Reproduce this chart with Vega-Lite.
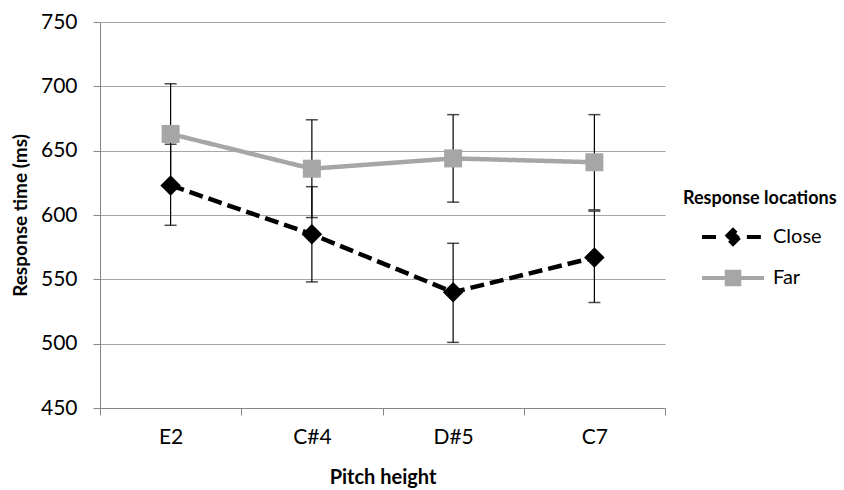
{
  "$schema": "https://vega.github.io/schema/vega-lite/v6.json",
  "autosize": {"type": "none"},
  "padding": {"left": 100, "top": 22, "right": 179, "bottom": 82},
  "width": 565,
  "height": 386,
  "background": "white",
  "config": {
    "font": "Lato",
    "view": {"stroke": null},
    "axis": {"labelFont": "Lato", "titleFont": "Lato", "labelColor": "#000000", "titleColor": "#000000"}
  },
  "data": {
    "values": [
      {"pitch": "E2", "loc": "Close", "rt": 623, "lo": 592, "hi": 655},
      {"pitch": "C#4", "loc": "Close", "rt": 585, "lo": 548, "hi": 622},
      {"pitch": "D#5", "loc": "Close", "rt": 540, "lo": 501, "hi": 578},
      {"pitch": "C7", "loc": "Close", "rt": 567, "lo": 532, "hi": 603},
      {"pitch": "E2", "loc": "Far", "rt": 663, "lo": 624, "hi": 702},
      {"pitch": "C#4", "loc": "Far", "rt": 636, "lo": 598, "hi": 674},
      {"pitch": "D#5", "loc": "Far", "rt": 644, "lo": 610, "hi": 678},
      {"pitch": "C7", "loc": "Far", "rt": 641, "lo": 604, "hi": 678}
    ]
  },
  "encoding": {
    "x": {
      "field": "pitch",
      "type": "ordinal",
      "sort": ["E2", "C#4", "D#5", "C7"],
      "scale": {"type": "band", "paddingInner": 0, "paddingOuter": 0},
      "axis": {
        "title": "Pitch height",
        "titleFontSize": 20,
        "titleFontWeight": "bold",
        "titlePadding": 20,
        "labelFontSize": 21,
        "labelPadding": 11,
        "labelAngle": 0,
        "tickBand": "extent",
        "tickSize": 7,
        "tickColor": "#868686",
        "domainColor": "#868686",
        "grid": false
      }
    }
  },
  "layer": [
    {
      "mark": {"type": "rule", "color": "#000000", "strokeWidth": 1.2},
      "encoding": {
        "y": {"field": "lo", "type": "quantitative"},
        "y2": {"field": "hi"}
      }
    },
    {
      "mark": {"type": "tick", "color": "#000000", "size": 12, "thickness": 1.5},
      "encoding": {"y": {"field": "lo", "type": "quantitative"}}
    },
    {
      "mark": {"type": "tick", "color": "#000000", "size": 12, "thickness": 1.5},
      "encoding": {"y": {"field": "hi", "type": "quantitative"}}
    },
    {
      "mark": {"type": "line", "strokeWidth": 4.5},
      "encoding": {
        "y": {
          "field": "rt",
          "type": "quantitative",
          "scale": {"domain": [450, 750], "nice": false, "zero": false},
          "axis": {
            "title": "Response time (ms)",
            "titleFontSize": 19,
            "titleFontWeight": "bold",
            "titlePadding": 10,
            "labelFontSize": 21,
            "labelPadding": 16,
            "values": [450, 500, 550, 600, 650, 700, 750],
            "tickSize": 7,
            "tickColor": "#868686",
            "domainColor": "#868686",
            "gridColor": "#a6a6a6",
            "gridWidth": 1.2
          }
        },
        "color": {
          "field": "loc",
          "type": "nominal",
          "scale": {"domain": ["Close", "Far"], "range": ["#000000", "#a6a6a6"]},
          "legend": {
            "title": "Response locations",
            "orient": "none",
            "legendX": 583,
            "legendY": 168,
            "padding": 0,
            "titleFontSize": 18,
            "titleFontWeight": "bold",
            "titleColor": "#000000",
            "titlePadding": 8,
            "labelFontSize": 20,
            "labelColor": "#000000",
            "labelOffset": 19,
            "rowPadding": 5,
            "symbolSize": 1444,
            "symbolOffset": 29,
            "symbolStrokeWidth": 4,
            "encode": {
              "symbols": {
                "update": {
                  "shape": {"signal": "datum.value === 'Close' ? 'M-1.63,0L-0.73,0M0.73,0L1.55,0M-0.36,0L0,-0.36L0.36,0L0,0.36Z' : 'M-1.63,0L1.63,0M-0.33,-0.33L0.33,-0.33L0.33,0.33L-0.33,0.33Z'"},
                  "fill": {"signal": "datum.value === 'Close' ? '#000000' : '#a6a6a6'"},
                  "fillOpacity": {"value": 1},
                  "strokeDash": {"value": [1, 0]}
                }
              }
            }
          }
        },
        "strokeDash": {
          "field": "loc",
          "type": "nominal",
          "scale": {"domain": ["Close", "Far"], "range": [[14, 6], [1, 0]]},
          "legend": null
        }
      }
    },
    {
      "mark": {"type": "point", "filled": true, "opacity": 1},
      "encoding": {
        "y": {"field": "rt", "type": "quantitative"},
        "shape": {"condition": {"test": "datum.loc === 'Close'", "value": "diamond"}, "value": "square"},
        "size": {"condition": {"test": "datum.loc === 'Close'", "value": 420}, "value": 324},
        "fill": {"condition": {"test": "datum.loc === 'Close'", "value": "#000000"}, "value": "#a6a6a6"}
      }
    }
  ]
}
